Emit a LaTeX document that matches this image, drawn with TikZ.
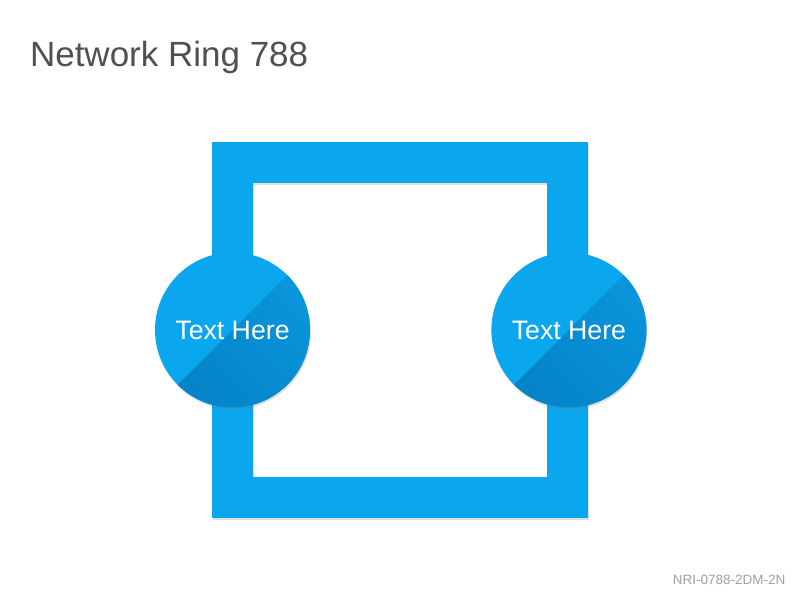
\documentclass[tikz,border=0pt]{standalone}
\usepackage{fontspec}
\setmainfont{Liberation Sans}
\usetikzlibrary{positioning,shadows}
\definecolor{ringblue}{HTML}{0AA6EE}
\definecolor{hubdark}{HTML}{0A95DB}
\definecolor{hubdeep}{HTML}{0583C7}
\definecolor{titlegray}{HTML}{505050}
\definecolor{footgray}{HTML}{A0A0A0}

\begin{document}
\begin{tikzpicture}[x=1pt, y=1pt,
    ring/.style={draw=ringblue, line width=41pt, line join=miter},
    ringshadow/.style={draw=black!12, line width=41pt, line join=miter},
    hub/.style={circle, fill=ringblue, minimum size=155pt, inner sep=0pt,
        text=white, font=\fontsize{26.7}{31}\selectfont,
        drop shadow={shadow xshift=1pt, shadow yshift=-2pt, opacity=0.25},
        path picture={
            \shade[top color=hubdark, bottom color=hubdeep, shading angle=-45]
            (path picture bounding box.south west) --
            (path picture bounding box.north east) --
            (path picture bounding box.south east) -- cycle;
        }}
    ]
\useasboundingbox[fill=white] (0,0) rectangle (800,600);
% \draw[help lines, step=50] (0,0) grid (800,600);
\node[anchor=base west, text=titlegray, font=\fontsize{35}{40}\selectfont]
    (title) at (26.5,533) {Network Ring 788};

\coordinate (ringsw) at (232.5,102.5);
\coordinate (ringne) at (567.5,437.5);
\coordinate (shadowsw) at (233.5,100.5);
\coordinate (shadowne) at (568.5,435.5);
\draw[ringshadow] (shadowsw) rectangle (shadowne);
\draw[ring] (ringsw) rectangle (ringne);

\node[hub] (hubl) at (232.5,270) {Text Here};
\node[hub] (hubr) [right=181pt of hubl] {Text Here};

\node[anchor=base east, text=footgray, font=\fontsize{13.5}{16}\selectfont]
    (code) at (789,16) {NRI-0788-2DM-2N};
\end{tikzpicture}
\end{document}
